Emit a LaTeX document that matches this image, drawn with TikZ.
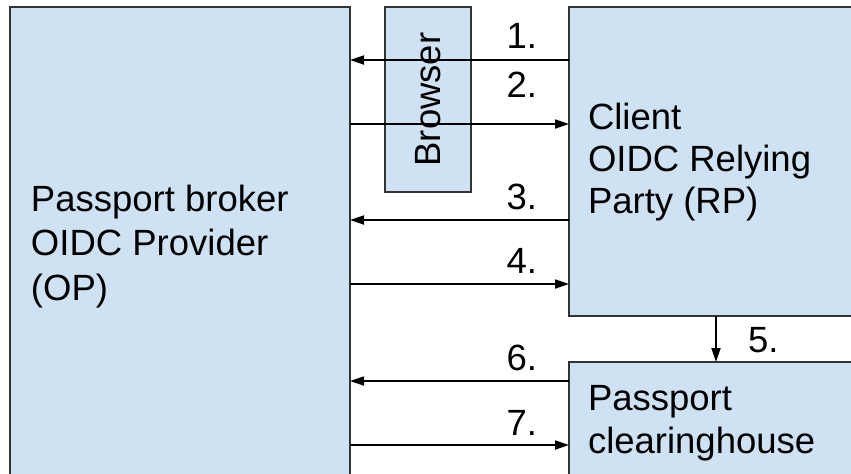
\documentclass[tikz,border=0pt]{standalone}
\usepackage{fontspec}
\setmainfont{Liberation Sans}
\usetikzlibrary{positioning,arrows.meta}

\definecolor{boxblue}{HTML}{CFE2F3}
\definecolor{boxline}{HTML}{333333}

\begin{document}
\begin{tikzpicture}[x=0.5pt,y=-0.5pt,every node/.style={outer sep=0pt},
		party/.style={draw=boxline,line width=1pt,fill=boxblue,anchor=north west,inner sep=0pt},
		flow/.style={line width=0.9pt,-{Triangle[length=7pt,width=4.5pt]}},
		steplabel/.style={font=\fontsize{18.25}{21.5}\selectfont,inner sep=0pt},
		boxtext/.style={font=\fontsize{18.25}{21.5}\selectfont,align=left,inner sep=0pt,anchor=base west},
		]
		\clip (0,0) rectangle (851,473);

		% the four parties
		\node[party,minimum width=170pt,minimum height=245pt] (op) at (10,7) {};
		\node[party,minimum width=43pt,minimum height=92.5pt] (browser) at (385,7) {};
		\node[party,minimum width=160pt,minimum height=154.5pt] (rp) at (569,7) {};
		\node[party,minimum width=160pt,minimum height=70pt] (ch) at (569,362) {};

		% base anchor sits on the last line
		\node[boxtext,font=\fontsize{18.25}{22.25}\selectfont] (optext) at (31,300) {Passport broker\\OIDC Provider\\(OP)};
		\node[boxtext,font=\fontsize{18.25}{21}\selectfont] (rptext) at (588,213) {Client\\OIDC Relying\\Party (RP)};
		\node[boxtext] (chtext) at (588,453) {Passport\\clearinghouse};
		\node[steplabel,rotate=90] (browsertext) at (browser.center) {Browser};

		% message flow
		\draw[flow] (rp.west |- 0,60) -- (op.east |- 0,60)
			node[steplabel,pos=0.146,anchor=base east,yshift=6pt]{1.};
		\draw[flow] (op.east |- 0,124) -- (rp.west |- 0,124)
			node[steplabel,pos=0.854,anchor=base east,yshift=13.5pt]{2.};
		\draw[flow] (rp.west |- 0,220) -- (op.east |- 0,220)
			node[steplabel,pos=0.146,anchor=base east,yshift=5.5pt]{3.};
		\draw[flow] (op.east |- 0,284) -- (rp.west |- 0,284)
			node[steplabel,pos=0.854,anchor=base east,yshift=5.5pt]{4.};
		\draw[flow] (rp.south -| 716,0) -- (ch.north -| 716,0)
			node[steplabel,pos=0.8,anchor=base west,xshift=16pt]{5.};
		\draw[flow] (ch.west |- 0,381) -- (op.east |- 0,381)
			node[steplabel,pos=0.146,anchor=base east,yshift=5.5pt]{6.};
		\draw[flow] (op.east |- 0,445) -- (ch.west |- 0,445)
			node[steplabel,pos=0.854,anchor=base east,yshift=5pt]{7.};
\end{tikzpicture}
\end{document}
